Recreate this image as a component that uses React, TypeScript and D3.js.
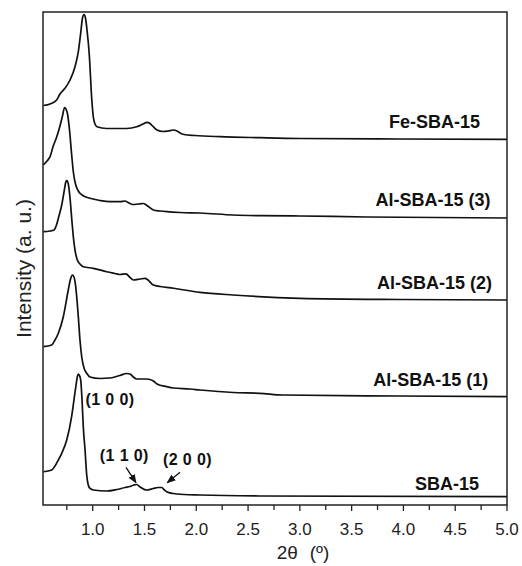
import React from "react";
import * as d3 from "d3";

const svgWidth = 522;
const svgHeight = 566;
const margin = { top: 12, right: 15, bottom: 61, left: 43 };
const tickLen = 5;
const font = "Liberation Sans, Arial, Helvetica, sans-serif";

// [2θ (°), stacked intensity (a. u.)]
const feSba15 = [
  [0.523, 81.03], [0.588, 81.34], [0.652, 82.15], [0.684, 83.37], [0.732, 84.52],
  [0.781, 86.21], [0.829, 88.9], [0.861, 91.95], [0.884, 95.74], [0.903, 98.99],
  [0.916, 99.49], [0.93, 98.78], [0.945, 96.35], [0.967, 91.28], [0.99, 82.56],
  [1.006, 78.7], [1.022, 77.28], [1.041, 76.73], [1.135, 76.37], [1.328, 76.37],
  [1.425, 76.73], [1.486, 77.28], [1.524, 77.63], [1.553, 77.38], [1.585, 76.73],
  [1.621, 76.06], [1.679, 75.76], [1.727, 75.86], [1.778, 76.06], [1.814, 75.86],
  [1.843, 75.46], [1.881, 75.15], [1.988, 74.95], [2.229, 74.71], [2.615, 74.5],
  [3.001, 74.34], [3.967, 74.24], [5.0, 74.18],
];

const alSba15_3 = [
  [0.523, 68.97], [0.559, 69.78], [0.588, 70.65], [0.619, 72.82], [0.652, 74.65],
  [0.684, 76.88], [0.708, 78.9], [0.728, 80.63], [0.742, 80.32], [0.757, 79.31],
  [0.776, 76.06], [0.797, 70.99], [0.813, 67.55], [0.829, 65.52], [0.861, 63.69],
  [0.897, 62.88], [0.974, 62.21], [1.07, 61.76], [1.167, 61.52], [1.263, 61.52],
  [1.312, 61.66], [1.341, 61.36], [1.389, 60.95], [1.437, 61.05], [1.488, 61.16],
  [1.524, 60.75], [1.585, 59.84], [1.65, 59.63], [1.717, 59.49], [1.843, 59.33],
  [2.036, 59.23], [2.355, 58.82], [2.615, 58.68], [3.001, 58.62], [3.648, 58.42],
  [5.0, 58.22],
];

const alSba15_2 = [
  [0.523, 55.44], [0.588, 55.58], [0.626, 55.78], [0.652, 56.9], [0.674, 58.62],
  [0.701, 60.85], [0.723, 63.49], [0.742, 65.62], [0.752, 65.82], [0.766, 64.91],
  [0.781, 62.27], [0.8, 57.4], [0.814, 54.16], [0.829, 51.72], [0.848, 49.9],
  [0.877, 48.88], [0.909, 48.34], [1.006, 48.01], [1.135, 47.32], [1.215, 46.96],
  [1.263, 46.75], [1.321, 46.9], [1.36, 46.15], [1.392, 45.64], [1.457, 45.84],
  [1.505, 45.98], [1.534, 45.64], [1.585, 44.62], [1.65, 44.32], [1.778, 43.96],
  [2.036, 43.14], [2.355, 42.6], [3.001, 41.93], [3.967, 41.68], [5.0, 41.58],
];

const alSba15_1 = [
  [0.523, 32.11], [0.604, 32.45], [0.636, 33.47], [0.668, 34.83], [0.716, 38.19],
  [0.764, 43.61], [0.786, 45.84], [0.803, 46.65], [0.819, 46.25], [0.834, 44.62],
  [0.861, 38.19], [0.877, 33.47], [0.894, 30.02], [0.916, 27.79], [0.942, 26.71],
  [0.974, 25.96], [1.07, 25.66], [1.167, 25.76], [1.263, 26.27], [1.328, 26.67],
  [1.36, 26.57], [1.392, 25.96], [1.425, 25.56], [1.521, 25.56], [1.553, 25.46],
  [1.585, 25.15], [1.621, 24.54], [1.714, 24.0], [1.778, 23.73], [1.939, 23.53],
  [2.036, 23.33], [2.355, 22.82], [2.615, 22.66], [2.837, 22.31], [3.967, 22.11],
  [5.0, 21.97],
];

const sba15 = [
  [0.523, 6.75], [0.604, 7.1], [0.636, 7.91], [0.668, 9.13], [0.701, 10.49],
  [0.749, 13.18], [0.797, 18.05], [0.819, 21.3], [0.839, 24.34], [0.853, 26.17],
  [0.861, 26.57], [0.872, 26.27], [0.884, 25.35], [0.897, 21.3], [0.909, 15.88],
  [0.926, 11.16], [0.942, 6.09], [0.957, 4.06], [0.974, 3.35], [1.006, 3.04],
  [1.135, 2.84], [1.232, 3.14], [1.312, 3.55], [1.36, 3.75], [1.399, 4.06],
  [1.425, 4.16], [1.457, 3.65], [1.521, 3.04], [1.585, 3.35], [1.63, 3.55],
  [1.666, 3.55], [1.688, 3.14], [1.714, 2.7], [1.778, 2.33], [1.811, 2.23],
  [2.036, 2.03], [2.615, 1.83], [5.0, 1.68],
];

const seriesList = [feSba15, alSba15_3, alSba15_2, alSba15_1, sba15];
const sampleNames = ["Fe-SBA-15", "Al-SBA-15 (3)", "Al-SBA-15 (2)", "Al-SBA-15 (1)", "SBA-15"];
const nameAnchors = [
  [4.74, 77.75], [4.84, 61.87], [4.855, 45.09], [4.82, 25.35], [4.73, 4.2],
];

const majorTicks = [1.0, 1.5, 2.0, 2.5, 3.0, 3.5, 4.0, 4.5, 5.0];
const minorTicks = [0.75, 1.25, 1.75, 2.25, 2.75, 3.25, 3.75, 4.25, 4.75];

const reflexLabels = ["(1 0 0)", "(1 1 0)", "(2 0 0)"];
const reflexAnchors = [[1.167, 21.4], [1.305, 9.94], [1.915, 9.13]];
// arrows: [from 2θ, from I, to 2θ, to I]
const reflexArrows = [
  [1.321, 7.65, 1.418, 4.52],
  [1.843, 6.63, 1.72, 4.52],
];

export default function App() {
  const innerLeft = margin.left;
  const innerRight = svgWidth - margin.right;
  const innerTop = margin.top;
  const innerBottom = svgHeight - margin.bottom;

  const xScale = d3.scaleLinear().domain([0.52, 5.0]).range([innerLeft, innerRight]);
  const yScale = d3.scaleLinear().domain([0, 100]).range([innerBottom, innerTop]);

  const path = d3
    .line<number[]>()
    .x((d) => xScale(d[0]))
    .y((d) => yScale(d[1]))
    .curve(d3.curveMonotoneX);

  return (
    <svg
      width={svgWidth}
      height={svgHeight}
      style={{ position: "absolute", left: 0, top: 0, display: "block", background: "#fff" }}
    >
      <defs>
        <marker id="arrowhead" viewBox="0 0 10 10" refX="9" refY="5" markerWidth="7" markerHeight="7" orient="auto">
          <path d="M0,1 L10,5 L0,9 z" fill="#111" />
        </marker>
      </defs>

      {seriesList.map((s, i) => (
        <path key={`s${i}`} d={path(s) || ""} fill="none" stroke="#111" strokeWidth={1.7} strokeLinejoin="round" />
      ))}

      <rect
        x={innerLeft}
        y={innerTop}
        width={innerRight - innerLeft}
        height={innerBottom - innerTop}
        fill="none"
        stroke="#222"
        strokeWidth={1.5}
      />

      {minorTicks.map((t) => (
        <line key={`mi${t}`} x1={xScale(t)} x2={xScale(t)} y1={innerBottom} y2={innerBottom + tickLen} stroke="#222" strokeWidth={1.3} />
      ))}
      {majorTicks.map((t) => (
        <g key={`ma${t}`} transform={`translate(${xScale(t)},${innerBottom})`}>
          <line y2={tickLen + 1} stroke="#222" strokeWidth={1.3} />
          <text y={30} textAnchor="middle" fontFamily={font} fontSize={17} fill="#222">
            {t.toFixed(1)}
          </text>
        </g>
      ))}

      <text x={303} y={559} textAnchor="middle" fontFamily={font} fontSize={19} fill="#222">
        2θ
        <tspan dx={12}>(º)</tspan>
      </text>
      <text
        transform={`translate(23,${(innerTop + innerBottom) / 2 + 10}) rotate(-90)`}
        textAnchor="middle"
        dominantBaseline="central"
        fontFamily={font}
        fontSize={21}
        fill="#222"
      >
        Intensity (a. u.)
      </text>

      {sampleNames.map((name, i) => (
        <text
          key={name}
          x={xScale(nameAnchors[i][0])}
          y={yScale(nameAnchors[i][1])}
          textAnchor="end"
          dominantBaseline="central"
          fontFamily={font}
          fontWeight="bold"
          fontSize={18}
          fill="#111"
        >
          {name}
        </text>
      ))}

      {reflexLabels.map((lab, i) => (
        <text
          key={lab}
          x={xScale(reflexAnchors[i][0])}
          y={yScale(reflexAnchors[i][1])}
          textAnchor="middle"
          dominantBaseline="central"
          fontFamily={font}
          fontWeight="bold"
          fontSize={16}
          letterSpacing={0.4}
          fill="#111"
        >
          {lab}
        </text>
      ))}
      {reflexArrows.map((a, i) => (
        <line
          key={`ar${i}`}
          x1={xScale(a[0])}
          y1={yScale(a[1])}
          x2={xScale(a[2])}
          y2={yScale(a[3])}
          stroke="#111"
          strokeWidth={1.3}
          markerEnd="url(#arrowhead)"
        />
      ))}
    </svg>
  );
}
